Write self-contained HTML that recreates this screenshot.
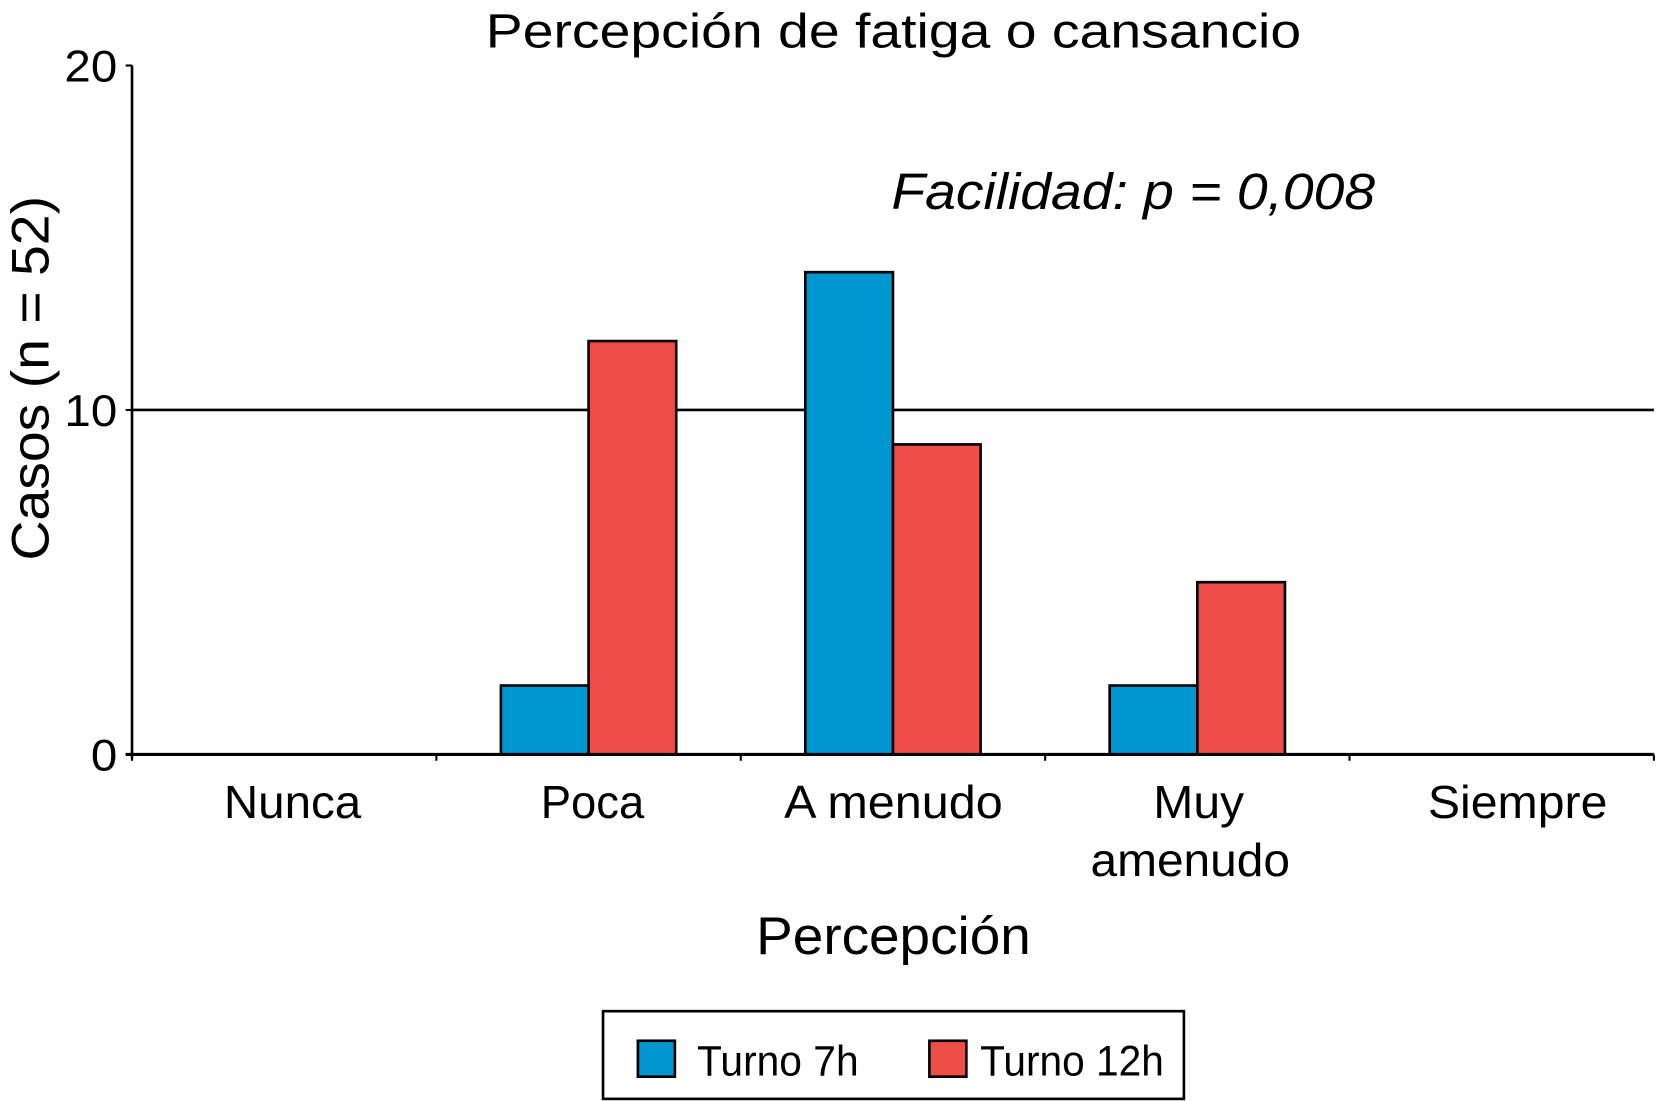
<!DOCTYPE html>
<html><head><meta charset="utf-8"><style>
html,body{margin:0;padding:0;background:#fff;}
svg{display:block;font-family:"Liberation Sans",sans-serif;}
</style></head><body>
<svg width="1656" height="1101" viewBox="0 0 1568 1042" preserveAspectRatio="none" xmlns="http://www.w3.org/2000/svg">
<g id="root"></g>
</svg>
<script>
const categories = ["Nunca","Poca","A menudo","Muy amenudo","Siempre"];
const turno7 = [0,2,14,2,0];
const turno12 = [0,12,9,5,0];
const yTicks = [0,10,20];
const seriesNames = ["Turno 7h","Turno 12h"];

const NS="http://www.w3.org/2000/svg";
const root=document.getElementById('root');
const X0=125,X1=1566,Y0=714,Y20=62;
const bandW=(X1-X0)/categories.length;
function y(v){return Y0-(v/20)*(Y0-Y20);}
function xc(i){return X0+bandW*(i+0.5);}
function mk(tag,attrs,parent){const e=document.createElementNS(NS,tag);for(const k in attrs)e.setAttribute(k,attrs[k]);(parent||root).appendChild(e);return e;}
function txt(s,attrs){const e=mk('text',attrs);e.textContent=s;return e;}

let t=txt("Percepción de fatiga o cansancio",{x:846,y:45,'text-anchor':'middle','font-size':46,textLength:772,lengthAdjust:'spacingAndGlyphs'});


t=txt("Facilidad: p = 0,008",{x:844,y:198,'font-size':48,'font-style':'italic',textLength:458,lengthAdjust:'spacingAndGlyphs'});



let g=mk('line',{x1:X0,x2:X1,y1:y(10),y2:y(10),stroke:'#000','stroke-width':2.5});



const bw=83;
categories.forEach((c,i)=>{
  [[turno7,'#0096d2',-bw],[turno12,'#ee4c47',0]].forEach(([arr,col,off],s)=>{
    const v=arr[i]; if(v<=0) return;
    const r=mk('rect',{x:xc(i)+off,y:y(v),width:bw,height:Y0-y(v),fill:col,stroke:'#000','stroke-width':2.5});
    
    
  });
});

let a=mk('line',{x1:X0,x2:X0,y1:Y20,y2:Y0+4,stroke:'#000','stroke-width':2.5});


a=mk('line',{x1:X0-6,x2:X1,y1:Y0,y2:Y0,stroke:'#000','stroke-width':3});


yTicks.forEach(v=>{
  mk('line',{x1:X0-6,x2:X0,y1:y(v),y2:y(v),stroke:'#000','stroke-width':2});
  const l=txt(String(v),{x:111,y:y(v)+15,'text-anchor':'end','font-size':42,textLength:String(v).length*25,lengthAdjust:'spacingAndGlyphs'});
  
  
});
for(let i=0;i<=categories.length;i++){
  mk('line',{x1:X0+bandW*i,x2:X0+bandW*i,y1:Y0,y2:Y0+6,stroke:'#000','stroke-width':2});
}
const labelLines=[[["Nunca",277,130]],[["Poca",561,98]],[["A menudo",846,207]],[["Muy",1135,86],["amenudo",1127,189]],[["Siempre",1437,170]]];
categories.forEach((c,i)=>{
  labelLines[i].forEach(([p,cx,w],j)=>{
    const l=txt(p,{x:cx,y:774+j*55,'text-anchor':'middle','font-size':44,textLength:w,lengthAdjust:'spacingAndGlyphs'});
    
    
  });
});
t=txt("Percepción",{x:846,y:903,'text-anchor':'middle','font-size':50,textLength:260,lengthAdjust:'spacingAndGlyphs'});


t=txt("Casos (n = 52)",{x:0,y:0,'text-anchor':'middle','font-size':50,textLength:345,lengthAdjust:'spacingAndGlyphs',transform:'translate(46,358) rotate(-90)'});



let lg=mk('rect',{x:571,y:957,width:550,height:83,fill:'#fff',stroke:'#000','stroke-width':2.5});


[['#0096d2',604,660,153],['#ee4c47',880,928,174]].forEach(([col,sx,tx,w],k)=>{
  const s=mk('rect',{x:sx,y:985,width:35,height:34,fill:col,stroke:'#000','stroke-width':2.5});
  
  
  const l=txt(seriesNames[k],{x:tx,y:1018,'font-size':40,textLength:w,lengthAdjust:'spacingAndGlyphs'});
  
  
});
</script>
</body></html>
